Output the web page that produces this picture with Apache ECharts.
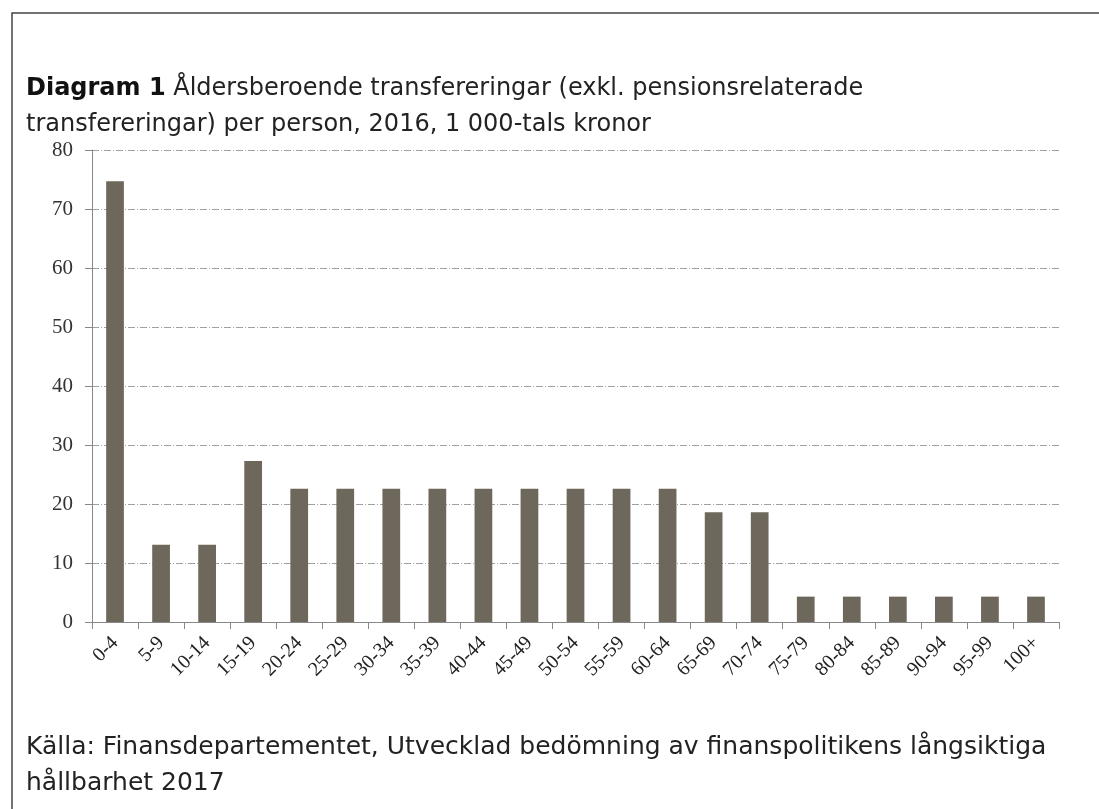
<!DOCTYPE html>
<html>
<head>
<meta charset="utf-8">
<script src="https://cdn.jsdelivr.net/npm/echarts@6/dist/echarts.min.js"></script>
<style>
html,body{margin:0;padding:0;background:#fff;}
#c{width:1099px;height:809px;}
</style>
</head>
<body>
<div id="c"></div>
<script>
var categories = ['0-4','5-9','10-14','15-19','20-24','25-29','30-34','35-39','40-44','45-49','50-54','55-59','60-64','65-69','70-74','75-79','80-84','85-89','90-94','95-99','100+'];
var values = [74.7, 13.1, 13.1, 27.3, 22.6, 22.6, 22.6, 22.6, 22.6, 22.6, 22.6, 22.6, 22.6, 18.6, 18.6, 4.3, 4.3, 4.3, 4.3, 4.3, 4.3];
var yTicks = [0, 10, 20, 30, 40, 50, 60, 70, 80];
var titleBold = 'Diagram 1';
var titleRest1 = ' Åldersberoende transfereringar (exkl. pensionsrelaterade';
var titleLine2 = 'transfereringar) per person, 2016, 1 000-tals kronor';
var sourceLines = ['Källa: Finansdepartementet, Utvecklad bedömning av finanspolitikens långsiktiga', 'hållbarhet 2017'];

var sansFont = '"DejaVu Sans", "Liberation Sans", Arial, sans-serif';
var serifFont = '"Liberation Serif", "DejaVu Serif", serif';

// fit text size to the reference's line width
var cv = document.createElement('canvas').getContext('2d');
cv.font = '100px ' + sansFont;
var srcSize = Math.round(100 * 1019 / cv.measureText(sourceLines[0]).width * 10) / 10;
var w1 = cv.measureText(titleRest1).width;
cv.font = 'bold 100px ' + sansFont;
var w1b = cv.measureText(titleBold).width;
var titleSize = Math.round(100 * 837 / (w1 + w1b) * 10) / 10;

var chart = echarts.init(document.getElementById('c'), null, {renderer:'canvas'});
chart.setOption({
  backgroundColor: '#fff',
  animation: false,
  title: {
    left: 26, top: 71, padding: 0,
    text: '{b|' + titleBold + '}{r|' + titleRest1 + '}\n{r|' + titleLine2 + '}',
    textStyle: {
      fontWeight: 'normal',
      rich: {
        b: {fontFamily: sansFont, fontSize: titleSize, fontWeight: 'bold', color: '#111', lineHeight: 36},
        r: {fontFamily: sansFont, fontSize: titleSize, fontWeight: 'normal', color: '#222', lineHeight: 36}
      }
    }
  },
  graphic: [
    {type: 'rect', shape: {x: 12, y: 13, width: 1200, height: 900}, style: {fill: 'none', stroke: '#444', lineWidth: 1.5}, silent: true},
    {type: 'text', left: 26, top: 729, style: {text: sourceLines.join('\n'), font: srcSize + 'px ' + sansFont, fill: '#222', lineHeight: 36}}
  ],
  grid: {left: 92, right: 40, top: 150, bottom: 187, containLabel: false},
  xAxis: {
    type: 'category',
    data: categories,
    boundaryGap: true,
    axisLine: {lineStyle: {color: '#888', width: 1}},
    axisTick: {show: true, alignWithLabel: false, length: 7, lineStyle: {color: '#888'}},
    axisLabel: {rotate: 45, interval: 0, fontFamily: serifFont, fontSize: 20, color: '#222', margin: 18}
  },
  yAxis: {
    type: 'value',
    min: yTicks[0], max: yTicks[yTicks.length - 1], interval: 10,
    axisLine: {show: true, lineStyle: {color: '#888', width: 1}},
    axisTick: {show: true, length: 7, lineStyle: {color: '#888'}},
    axisLabel: {fontFamily: serifFont, fontSize: 21, color: '#333', margin: 19},
    splitLine: {show: true, lineStyle: {color: '#a0a0a0', width: 1, type: [7, 2, 1, 2]}}
  },
  series: [{
    type: 'bar',
    data: values,
    barWidth: '38.5%',
    itemStyle: {color: '#6e675b'}
  }]
});
</script>
</body>
</html>
